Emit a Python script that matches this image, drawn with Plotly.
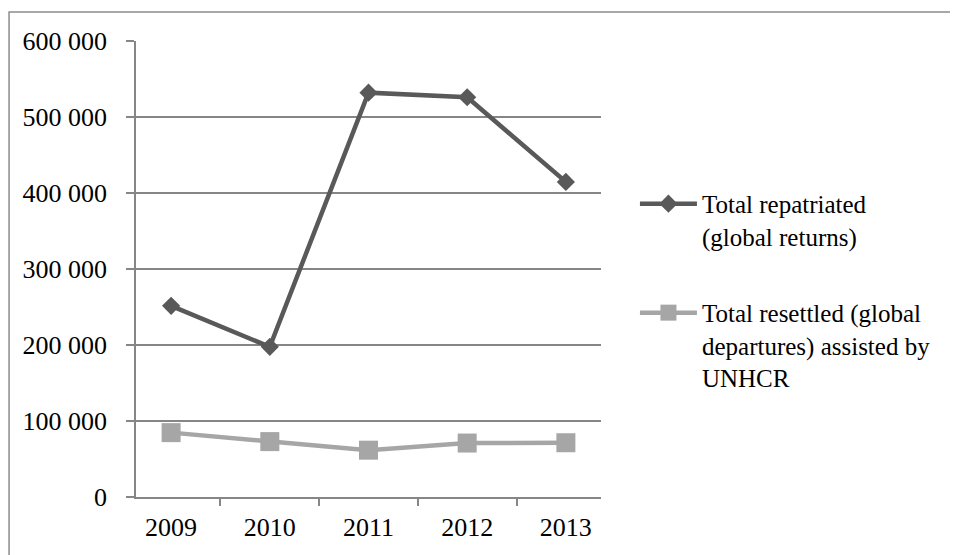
import plotly.graph_objects as go

years = ["2009", "2010", "2011", "2012", "2013"]
repatriated = [251500, 197600, 532000, 526000, 414600]
resettled = [84700, 72900, 61600, 71000, 71400]
series_names = ["Total repatriated<br>(global returns)",
                "Total resettled (global<br>departures) assisted by<br>UNHCR"]
y_ticks = [0, 100000, 200000, 300000, 400000, 500000, 600000]
y_ticktext = ["0", "100 000", "200 000", "300 000", "400 000", "500 000", "600 000"]

FONT = "Liberation Serif, Times New Roman, serif"
GRID = "#868686"

fig = go.Figure()
fig.add_trace(go.Scatter(
    x=years, y=repatriated, name=series_names[0], mode="lines+markers",
    legendgroup="a",
    line=dict(color="#595959", width=4.5),
    marker=dict(symbol="diamond", size=14, color="#595959"),
))
fig.add_trace(go.Scatter(
    x=years, y=resettled, name=series_names[1], mode="lines+markers",
    legendgroup="b",
    line=dict(color="#A6A6A6", width=4.5),
    marker=dict(symbol="square", size=19, color="#A6A6A6"),
))

fig.update_layout(
    width=958, height=555,
    margin=dict(l=128, r=365, t=33, b=66),
    paper_bgcolor="white", plot_bgcolor="white",
    font=dict(family=FONT, size=26, color="black"),
    showlegend=True,
    legend=dict(x=1.073, y=0.452, xanchor="left", yanchor="middle",
                font=dict(family=FONT, size=25, color="black"),
                tracegroupgap=41, valign="top", itemwidth=57,
                bgcolor="rgba(0,0,0,0)"),
    xaxis=dict(type="category", showgrid=False, showline=True,
               linecolor=GRID, linewidth=1.5,
               ticks="outside", tickson="boundaries", ticklen=7,
               tickcolor=GRID, tickwidth=1.5, ticklabelstandoff=6,
               tickfont=dict(family=FONT, size=26, color="black")),
    yaxis=dict(range=[0, 600000], tickvals=y_ticks, ticktext=y_ticktext,
               showgrid=True, gridcolor=GRID, gridwidth=1.5,
               showline=True, linecolor=GRID, linewidth=1.5,
               ticks="outside", ticklen=8, tickcolor=GRID, tickwidth=1.5,
               zeroline=False, ticklabelstandoff=14,
               tickfont=dict(family=FONT, size=26, color="black")),
    shapes=[dict(type="rect", xref="paper", yref="paper",
                 x0=-0.273, x1=1.7656, y0=-0.2, y1=1.0636,
                 line=dict(color="#8c8c8c", width=1.5), layer="below")],
)

fig.write_html("out.html")
